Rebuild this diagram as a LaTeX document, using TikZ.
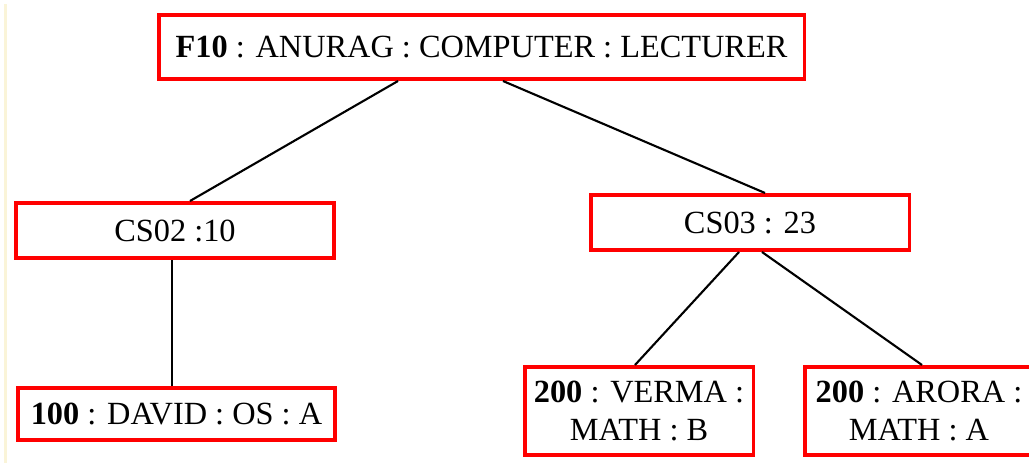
\documentclass[tikz,border=0pt]{standalone}
\usepackage{fontspec}
\setmainfont{Liberation Serif}
\usepackage{xcolor}
\usepackage{tikz}
\definecolor{recred}{RGB}{255, 0, 0}
\definecolor{margincream}{RGB}{250, 244, 216}

\begin{document}
\begin{tikzpicture}[
    recbox/.style={draw=recred, line width=2pt, inner sep=0pt,
      minimum height=1.11cm, font=\fontsize{18.4}{22}\selectfont},
    link/.style={black, line width=1.2pt}]
    \useasboundingbox (0,0) rectangle (20.58,9.26);
    \fill[white] (0,0) rectangle (20.58,9.26);
    \fill[margincream] (0.08,0) rectangle (0.14,9.18);

    %% faculty record
    \node[recbox, minimum width=12.91cm, minimum height=1.29cm]
      (fac) at (9.63,8.32) {\textbf{F10} : ANURAG : COMPUTER : LECTURER};

    %% course records
    \node[recbox, minimum width=6.37cm] (cs02) at (3.5,4.65) {CS02 :10};
    \node[recbox, minimum width=6.37cm] (cs03) at (15.0,4.81) {CS03 : 23};

    %% student records
    \node[recbox, minimum width=6.35cm, minimum height=1.05cm]
      (david) at (3.53,0.98) {\textbf{100} : DAVID : OS : A};
    \node[recbox, minimum width=4.57cm, minimum height=1.77cm, align=center]
      (verma) at (12.78,1.04) {\textbf{200} : VERMA :\\MATH : B};
    \node[recbox, minimum width=4.57cm, minimum height=1.77cm, align=center]
      (arora) at (18.38,1.04) {\textbf{200} : ARORA :\\MATH : A};

    %% links
    \draw[link] ([xshift=-1.67cm]fac.south) -- ([xshift=0.3cm]cs02.north);
    \draw[link] ([xshift=0.43cm]fac.south) -- ([xshift=0.3cm]cs03.north);
    \draw[link] ([xshift=-0.06cm]cs02.south) -- ([xshift=-0.09cm]david.north);
    \draw[link] ([xshift=-0.22cm]cs03.south) -- ([xshift=-0.08cm]verma.north);
    \draw[link] ([xshift=0.24cm]cs03.south) -- ([xshift=0.06cm]arora.north);
  \end{tikzpicture}
\end{document}
